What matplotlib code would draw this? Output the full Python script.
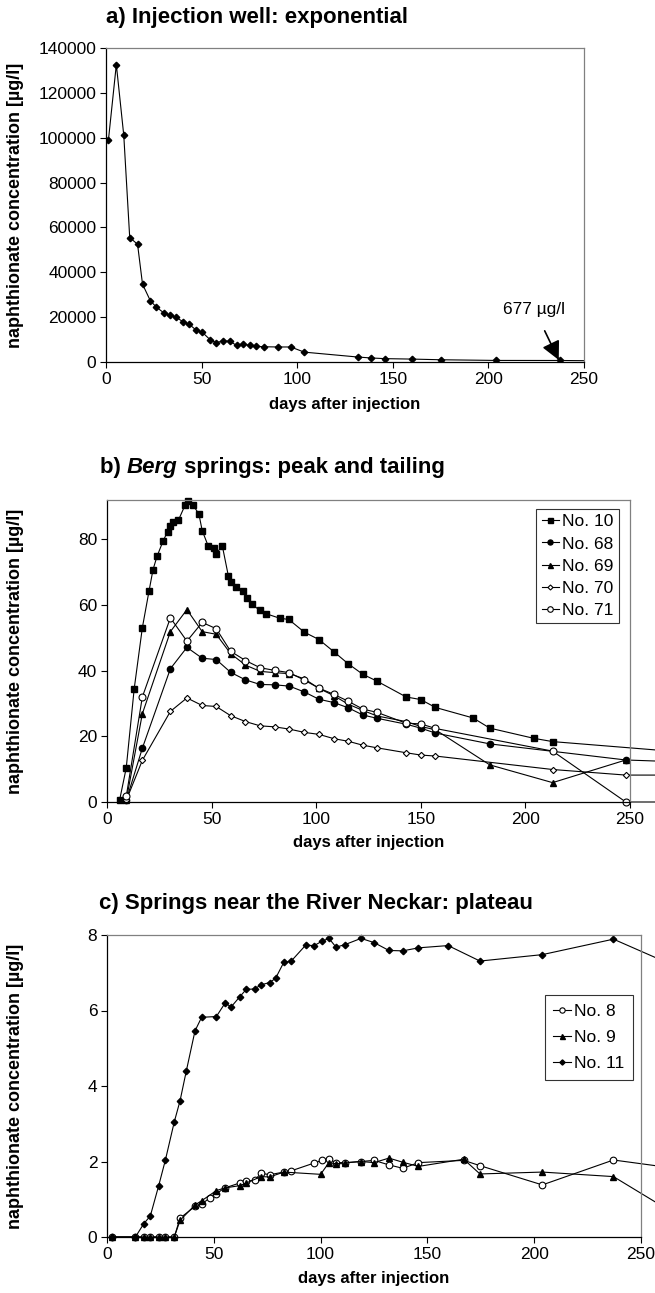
import matplotlib
matplotlib.use("Agg")
import matplotlib.pyplot as plt

plt.rcParams['font.family'] = ['Liberation Sans', 'DejaVu Sans']

# a) injection well
days_a = [1.3, 5.4, 9.3, 12.4, 16.5, 19.1, 23.2, 26.3, 30.4, 33.4, 36.7, 40.4, 43.4,
          47.3, 50.3, 54.5, 57.7, 61.4, 64.7, 68.4, 71.4, 75.3, 78.6, 82.5, 89.8,
          96.6, 103.7, 131.9, 138.7, 145.8, 159.9, 175.1, 204.0, 237.2, 270.0]
conc_a = [99200, 132600, 101000, 55500, 52500, 34700, 27300, 24500, 21800, 20900,
          19900, 17900, 16900, 14100, 13300, 9900, 8600, 9500, 9200, 7400, 8000,
          7400, 7000, 6800, 6700, 6700, 4400, 2200, 1800, 1500, 1300, 1000, 700,
          677, 450]

# b) Berg springs
days_10 = [6, 9.2, 13, 16.9, 20.1, 22, 23.9, 26.8, 29, 30.3, 31.5, 34.1, 37.3, 38.5,
           41.1, 43.9, 45.5, 48.3, 51, 52.2, 55.1, 58, 59.4, 61.8, 65, 66.9, 69.1,
           72.9, 75.8, 82.5, 86.9, 94.4, 101.3, 108.4, 115.3, 122.3, 129.1, 143,
           150, 157, 175, 183, 204, 213, 275]
no_10 = [0.5, 10.4, 34.5, 53.1, 64.3, 70.8, 74.8, 79.5, 82.4, 84.0, 85.2, 85.8, 90.4,
         91.6, 90.4, 87.8, 82.7, 78.1, 77.5, 75.6, 78.1, 68.9, 66.9, 65.5, 64.3,
         62.2, 60.4, 58.4, 57.4, 56.0, 55.6, 51.7, 49.5, 45.8, 42.1, 38.9, 36.8,
         32.0, 31.2, 28.8, 25.6, 22.5, 19.4, 18.4, 15.2]
days_68 = [9.2, 16.9, 30.3, 38.2, 45.5, 52.2, 59.1, 66.2, 73.2, 80.1, 87.2, 94.4,
           101.3, 108.4, 115.3, 122.3, 129.1, 143, 150, 157, 183, 248, 275]
no_68 = [0.5, 16.4, 40.6, 47.1, 43.8, 43.4, 39.5, 37.2, 35.8, 35.7, 35.3, 33.5, 31.3,
         30.3, 28.7, 26.5, 25.5, 23.7, 22.5, 21.0, 17.7, 12.8, 12.2]
days_69 = [9.2, 16.9, 30.3, 38.2, 45.5, 52.2, 59.1, 66.2, 73.2, 80.1, 87.2, 94.4,
           101.3, 108.4, 115.3, 122.3, 129.1, 143, 150, 157, 183, 213, 248]
no_69 = [0.5, 26.9, 51.9, 58.6, 51.9, 51.1, 45.2, 41.7, 39.8, 39.4, 39.1, 37.5, 34.6,
         32.4, 29.8, 27.9, 26.2, 24.5, 23.0, 22.0, 11.3, 5.9, 12.8]
days_70 = [9.2, 16.9, 30.3, 38.2, 45.5, 52.2, 59.1, 66.2, 73.2, 80.1, 87.2, 94.4,
           101.3, 108.4, 115.3, 122.3, 129.1, 143, 150, 157, 213, 248, 275]
no_70 = [0.5, 12.7, 27.6, 31.7, 29.4, 29.1, 26.3, 24.5, 23.2, 22.9, 22.2, 21.2, 20.6,
         19.3, 18.5, 17.3, 16.5, 15.0, 14.3, 14.0, 9.9, 8.2, 8.2]
days_71 = [9.2, 16.9, 30.3, 38.2, 45.5, 52.2, 59.1, 66.2, 73.2, 80.1, 87.2, 94.4,
           101.3, 108.4, 115.3, 122.3, 129.1, 143, 150, 157, 213, 248, 275]
no_71 = [1.7, 32.0, 56.1, 49.0, 54.7, 52.8, 45.9, 43.1, 40.9, 40.1, 39.4, 37.1, 34.7,
         32.8, 30.7, 28.3, 27.3, 24.0, 23.8, 22.4, 15.5, 0.0, 0.0]

# c) springs near the River Neckar
days_11 = [2.3, 13.3, 17.2, 20.3, 24.2, 27.3, 31.5, 34.2, 37.1, 41.2, 44.3, 51.2,
           55.2, 58.2, 62.1, 65.2, 69.1, 72.1, 76.1, 78.9, 82.8, 86.1, 93.0, 97.0,
           100.5, 103.9, 107.2, 111.2, 118.9, 125.0, 132.0, 138.5, 145.8, 159.7,
           174.6, 203.8, 237.1, 275]
no_11 = [0, 0, 0.35, 0.56, 1.36, 2.03, 3.05, 3.61, 4.39, 5.46, 5.82, 5.84, 6.19, 6.10,
         6.36, 6.56, 6.57, 6.68, 6.74, 6.85, 7.28, 7.30, 7.73, 7.72, 7.83, 7.91, 7.68,
         7.74, 7.91, 7.80, 7.59, 7.58, 7.66, 7.72, 7.31, 7.48, 7.89, 6.95]
days_8 = [2.3, 13.3, 17.2, 20.3, 24.2, 27.3, 31.5, 34.2, 41.2, 44.3, 48.0, 51.2, 55.2,
          62.1, 65.2, 69.1, 72.1, 76.1, 82.8, 86.1, 97.0, 100.5, 103.9, 107.2, 111.2,
          118.9, 125.0, 132.0, 138.5, 145.8, 167.0, 174.6, 203.8, 237.1, 275]
no_8 = [0, 0, 0, 0, 0, 0, 0, 0.50, 0.81, 0.87, 1.03, 1.15, 1.30, 1.43, 1.48, 1.50, 1.69,
        1.65, 1.72, 1.75, 1.96, 2.03, 2.06, 1.97, 1.97, 2.00, 2.03, 1.91, 1.82, 1.97,
        2.03, 1.89, 1.38, 2.04, 1.75]
days_9 = [2.3, 13.3, 17.2, 20.3, 24.2, 27.3, 31.5, 34.2, 41.2, 44.3, 51.2, 55.2, 62.1,
          65.2, 72.1, 76.1, 82.8, 100.0, 103.9, 107.2, 111.2, 118.9, 125.0, 132.0,
          138.5, 145.8, 167.0, 174.6, 203.8, 237.1, 275]
no_9 = [0, 0, 0, 0, 0, 0, 0, 0.44, 0.85, 0.96, 1.23, 1.30, 1.36, 1.43, 1.60, 1.59,
        1.72, 1.66, 1.97, 1.94, 1.96, 2.00, 1.97, 2.09, 1.98, 1.87, 2.06, 1.67, 1.72,
        1.60, 0.30]

FS = 12.5
TFS = 16
H = 1293.0
fig = plt.figure(figsize=(6.55, 12.93), dpi=100)


def box(left, right, top, bottom):
    # pixel box -> figure fraction
    return [left / 655, 1 - bottom / H, (right - left) / 655, (bottom - top) / H]


def style_axes(ax, ylim, yticks):
    ax.set_xlim(0, 250)
    ax.set_ylim(*ylim)
    ax.set_xticks([0, 50, 100, 150, 200, 250])
    ax.set_yticks(yticks)
    ax.tick_params(labelsize=FS, direction='out', length=4, width=0.8, pad=3)
    for s in ['top', 'right']:
        ax.spines[s].set_color('#808080')
        ax.spines[s].set_linewidth(0.9)
    for s in ['left', 'bottom']:
        ax.spines[s].set_color('black')
        ax.spines[s].set_linewidth(0.9)


def labels(ax, y_xlabel):
    pos = ax.get_position()
    fig.text(0.024, (pos.y0 + pos.y1) / 2, 'naphthionate concentration [µg/l]',
             rotation=90, ha='center', va='center', fontsize=13, fontweight='bold')
    fig.text((pos.x0 + pos.x1) / 2, 1 - y_xlabel / H, 'days after injection',
             ha='center', va='center', fontsize=12, fontweight='bold')


def legend(ax, anchor, spacing, pad):
    leg = ax.legend(loc='upper right', bbox_to_anchor=anchor, borderaxespad=0,
                    fontsize=FS, frameon=True, fancybox=False, edgecolor='black',
                    handlelength=1.0, handletextpad=0.2, borderpad=pad,
                    labelspacing=spacing, markerscale=0.8)
    leg.get_frame().set_linewidth(0.8)


line_kw = dict(color='black', lw=0.8, clip_on=False)

# ---------------- panel a
ax1 = fig.add_axes(box(106, 584, 48, 362))
ax1.plot(days_a, conc_a, marker='D', ms=3.3, mfc='black', mec='black',
         color='black', lw=0.8, clip_on=True)
style_axes(ax1, (0, 140000), range(0, 140001, 20000))
ax1.annotate('677 µg/l', xy=(236.8, 900), xytext=(224, 23500), ha='center',
             va='center', fontsize=FS,
             arrowprops=dict(arrowstyle='-|>,head_length=0.9,head_width=0.45',
                             color='black', lw=1.2, shrinkA=9, shrinkB=0))
fig.text(106 / 655, 1 - 18 / H, 'a) Injection well: exponential', fontsize=TFS,
         fontweight='bold', ha='left', va='center')
labels(ax1, 405)

# ---------------- panel b
ax2 = fig.add_axes(box(107, 630, 500, 802))
ax2.plot(days_10, no_10, marker='s', ms=4.5, mfc='black', mec='black', label='No. 10', **line_kw)
ax2.plot(days_68, no_68, marker='o', ms=4.5, mfc='black', mec='black', label='No. 68', **line_kw)
ax2.plot(days_69, no_69, marker='^', ms=4.5, mfc='black', mec='black', label='No. 69', **line_kw)
ax2.plot(days_70, no_70, marker='D', ms=3.2, mfc='white', mec='black', mew=0.8,
         label='No. 70', **line_kw)
ax2.plot(days_71, no_71, marker='o', ms=5, mfc='white', mec='black', mew=0.8,
         label='No. 71', **line_kw)
style_axes(ax2, (0, 92), range(0, 81, 20))
legend(ax2, (0.979, 0.97), 0.4, 0.3)
t1 = fig.text(100 / 655, 1 - 467 / H, 'b) ', fontsize=TFS, fontweight='bold',
              ha='left', va='center')
t2 = ax2.annotate('Berg', xy=(1, 0), xycoords=t1, fontsize=TFS, fontweight='bold',
                  fontstyle='italic', ha='left', va='bottom')
ax2.annotate(' springs: peak and tailing', xy=(1, 0), xycoords=t2, fontsize=TFS,
             fontweight='bold', ha='left', va='bottom')
labels(ax2, 843)

# ---------------- panel c
ax3 = fig.add_axes(box(107, 641, 935, 1237))
ax3.plot(days_8, no_8, marker='o', ms=4.8, mfc='white', mec='black', mew=0.8,
         label='No. 8', **line_kw)
ax3.plot(days_9, no_9, marker='^', ms=4.5, mfc='black', mec='black', label='No. 9', **line_kw)
ax3.plot(days_11, no_11, marker='D', ms=3.3, mfc='black', mec='black', label='No. 11', **line_kw)
style_axes(ax3, (0, 8), range(0, 9, 2))
legend(ax3, (0.985, 0.80), 0.62, 0.5)
fig.text(99 / 655, 1 - 903 / H, 'c) Springs near the River Neckar: plateau', fontsize=TFS,
         fontweight='bold', ha='left', va='center')
labels(ax3, 1279)

fig.savefig('out.png', dpi=100)
